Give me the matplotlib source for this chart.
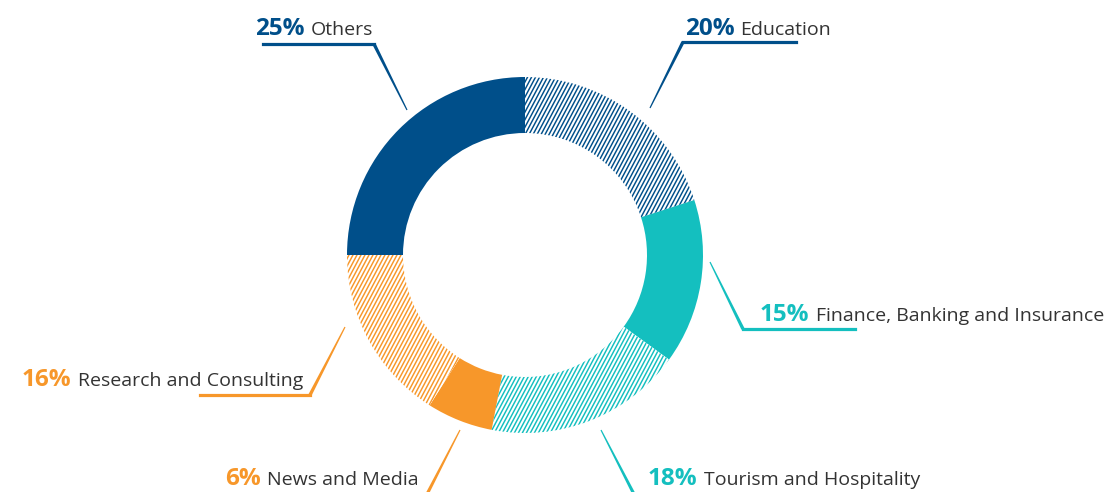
import matplotlib
matplotlib.use("Agg")
import matplotlib.pyplot as plt
import numpy as np
from matplotlib.collections import LineCollection
from matplotlib.patches import Polygon

plt.rcParams["font.family"] = ["Open Sans", "DejaVu Sans"]

NAVY = "#004f8a"
TEAL = "#14bfbf"
ORANGE = "#f7972a"
TEXT = "#333333"

# data, clockwise from the top
labels = ["Education", "Finance, Banking and Insurance", "Tourism and Hospitality",
          "News and Media", "Research and Consulting", "Others"]
shares = [20, 15, 18, 6, 16, 25]
colors = [NAVY, TEAL, TEAL, ORANGE, ORANGE, NAVY]
hatched = [True, False, True, False, True, False]

W, H = 1107, 492
CX, CY, R, RING = 525, 255, 178, 56

fig = plt.figure(figsize=(W / 100, H / 100), dpi=100)
ax = fig.add_axes([0, 0, 1, 1])

wedges, _ = ax.pie(shares, center=(CX, H - CY), radius=R, startangle=90,
                   counterclock=False, colors=colors,
                   wedgeprops=dict(width=RING, linewidth=0))
ax.set_xlim(0, W)
ax.set_ylim(0, H)
ax.set_aspect("equal")
ax.axis("off")

# steep stripe hatching, clipped to the wedge
ang = np.radians(62)
for w, c, h in zip(wedges, colors, hatched):
    if not h:
        continue
    w.set_facecolor("white")
    y0 = H - CY - R - 10
    L = 3 * R
    segs = []
    for x0 in np.arange(CX - R - L, CX + R + 10, 4.0):
        segs.append([(x0, y0), (x0 + L * np.cos(ang), y0 + L * np.sin(ang))])
    lc = LineCollection(segs, colors=c, linewidths=1.05)
    ax.add_collection(lc)
    lc.set_clip_path(w)


def leader(pts, color):
    pts = [(x, H - y) for x, y in pts]
    if len(pts) > 2:
        xs, ys = zip(*pts[:-1])
        ax.plot(xs, ys, color=color, lw=2.3, solid_capstyle="projecting")
    (x1, y1), (x2, y2) = pts[-2], pts[-1]
    d = np.array([x2 - x1, y2 - y1], float)
    n = np.array([-d[1], d[0]]) / np.hypot(*d)
    w0, w1 = 1.7, 0.6
    poly = [(x1 + n[0] * w0, y1 + n[1] * w0), (x2 + n[0] * w1, y2 + n[1] * w1),
            (x2 - n[0] * w1, y2 - n[1] * w1), (x1 - n[0] * w0, y1 - n[1] * w0)]
    ax.add_patch(Polygon(poly, closed=True, color=color, lw=0))


leaders = [
    [(796, 42), (683, 42), (650, 108)],
    [(855, 329), (743, 329), (710, 262)],
    [(637, 500), (601, 430)],
    [(424, 500), (460, 430)],
    [(200, 395), (310, 395), (345, 327)],
    [(263, 44), (374, 44), (407, 110)],
]
# left edge and baseline of each label
label_pos = [(685, 35), (760, 321), (648, 485), (225, 485), (22, 386), (255, 35)]

for pts, c in zip(leaders, colors):
    leader(pts, c)

fig.canvas.draw()
for (x, y), lab, s, c in zip(label_pos, labels, shares, colors):
    t = ax.text(x, H - y, f"{s}%", color=c, fontsize=17.5, fontweight="bold",
                ha="left", va="baseline")
    bb = t.get_window_extent(renderer=fig.canvas.get_renderer())
    ax.text(bb.x1 + 6, H - y, lab, color=TEXT, fontsize=14, ha="left", va="baseline")

fig.savefig("out.png", dpi=100)
